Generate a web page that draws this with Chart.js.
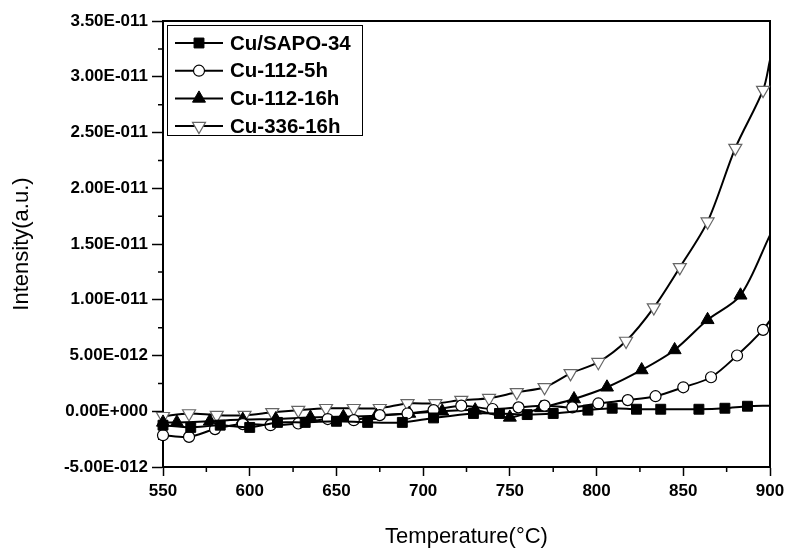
<!DOCTYPE html>
<html><head><meta charset="utf-8">
<script src="https://cdn.jsdelivr.net/npm/chart.js@4/dist/chart.umd.min.js"></script>
<style>html,body{margin:0;padding:0;background:#fff}</style>
</head><body>
<canvas id="c" width="791" height="554"></canvas>
<script>
// ---- data (intensity in units of 1e-12 a.u.) ----
const seriesNames = ['Cu/SAPO-34', 'Cu-112-5h', 'Cu-112-16h', 'Cu-336-16h'];

const sapoTemp = [550, 566, 583, 600, 616, 632, 650, 668, 688, 706, 729, 744, 760, 775, 795, 809, 823, 837, 859, 874, 887, 900];
const sapoVal  = [-1.25, -1.45, -1.25, -1.45, -1.0, -1.0, -0.9, -1.0, -1.0, -0.6, -0.2, -0.2, -0.3, -0.2, 0.1, 0.27, 0.18, 0.18, 0.18, 0.27, 0.45, 0.5];

const cu1125Temp = [550, 565, 580, 596, 612, 628, 645, 660, 675, 691, 706, 722, 740, 755, 770, 786, 801, 818, 834, 850, 866, 881, 896, 900];
const cu1125Val  = [-2.15, -2.3, -1.6, -1.15, -1.25, -1.1, -0.7, -0.8, -0.35, -0.2, 0.1, 0.5, 0.2, 0.35, 0.5, 0.35, 0.7, 1.0, 1.35, 2.15, 3.05, 5.0, 7.3, 8.15];

const cu11216Temp = [550, 558, 577, 596, 615, 635, 654, 673, 692, 711, 730, 750, 768, 787, 806, 826, 845, 864, 883, 900];
const cu11216Val  = [-1.0, -1.0, -0.9, -0.75, -0.7, -0.55, -0.5, -0.4, -0.2, 0.0, 0.1, -0.55, 0.3, 1.1, 2.15, 3.7, 5.5, 8.2, 10.4, 15.8];

const cu33616Temp = [550, 565, 581, 597, 613, 628, 644, 660, 675, 691, 707, 722, 738, 754, 770, 785, 801, 817, 833, 848, 864, 880, 896, 900];
const cu33616Val  = [-0.45, -0.2, -0.35, -0.35, -0.1, 0.1, 0.27, 0.27, 0.27, 0.7, 0.7, 1.0, 1.17, 1.7, 2.15, 3.4, 4.4, 6.3, 9.3, 12.9, 17.0, 23.6, 28.8, 31.5];

const xTickValues = [550, 600, 650, 700, 750, 800, 850, 900];
const yTickValues = [-5, 0, 5, 10, 15, 20, 25, 30, 35];
const yUnit = 1e-12;

// ---- helpers ----
function pts(t, v) { return t.map((x, i) => ({ x: x, y: v[i] })); }
function sci(v) {
  const s = (v * yUnit).toExponential(2);
  const parts = s.split('e');
  const sign = parts[1][0] === '-' ? '-' : '+';
  const digits = parts[1].replace(/[+-]/, '').padStart(3, '0');
  return parts[0] + 'E' + sign + digits;
}
const hideAtEnd = (r) => (ctx) => (ctx.raw && ctx.raw.x >= 900) ? 0 : r;

const styles = [
  { pointStyle: 'rect', rotation: 0, radius: 7, bg: '#000', bc: '#000', bw: 1 },
  { pointStyle: 'circle', rotation: 0, radius: 5.5, bg: '#fff', bc: '#000', bw: 1.2 },
  { pointStyle: 'triangle', rotation: 0, radius: 7.5, bg: '#000', bc: '#000', bw: 1 },
  { pointStyle: 'triangle', rotation: 180, radius: 7.5, bg: '#fff', bc: '#666', bw: 1.2 }
];
const seriesData = [pts(sapoTemp, sapoVal), pts(cu1125Temp, cu1125Val), pts(cu11216Temp, cu11216Val), pts(cu33616Temp, cu33616Val)];

const datasets = seriesNames.map((name, i) => ({
  label: name,
  data: seriesData[i],
  borderColor: '#000',
  borderWidth: 2,
  tension: 0.3,
  fill: false,
  clip: false,
  pointStyle: styles[i].pointStyle,
  pointRotation: styles[i].rotation,
  pointRadius: hideAtEnd(styles[i].radius),
  pointBackgroundColor: styles[i].bg,
  pointBorderColor: styles[i].bc,
  pointBorderWidth: styles[i].bw,
  pointHoverRadius: hideAtEnd(styles[i].radius)
}));

function drawMarker(ctx, st, x, y) {
  ctx.save();
  ctx.fillStyle = st.bg; ctx.strokeStyle = st.bc; ctx.lineWidth = st.bw;
  if (Chart.helpers && Chart.helpers.drawPoint) {
    Chart.helpers.drawPoint(ctx, { pointStyle: st.pointStyle, rotation: st.rotation, radius: st.radius, borderWidth: st.bw }, x, y);
  } else {
    ctx.beginPath();
    if (st.pointStyle === 'circle') ctx.arc(x, y, st.radius, 0, Math.PI * 2);
    else if (st.pointStyle === 'rect') { const s = st.radius * Math.SQRT1_2; ctx.rect(x - s, y - s, 2 * s, 2 * s); }
    else {
      const r = st.radius, d = st.rotation ? -1 : 1;
      ctx.moveTo(x, y - d * r);
      ctx.lineTo(x + r * 0.866, y + d * r / 2);
      ctx.lineTo(x - r * 0.866, y + d * r / 2);
      ctx.closePath();
    }
    ctx.fill(); ctx.stroke();
  }
  ctx.restore();
}

const framePlugin = {
  id: 'frame',
  beforeDatasetsDraw(chart) {
    const { ctx, chartArea: a, scales } = chart;
    ctx.save();
    ctx.strokeStyle = '#000';
    ctx.lineWidth = 2;
    ctx.strokeRect(a.left, a.top, a.right - a.left, a.bottom - a.top);
    // minor ticks
    ctx.lineWidth = 1.5;
    ctx.beginPath();
    for (let i = 0; i < xTickValues.length - 1; i++) {
      const px = scales.x.getPixelForValue((xTickValues[i] + xTickValues[i + 1]) / 2);
      ctx.moveTo(px, a.bottom); ctx.lineTo(px, a.bottom + 5);
    }
    for (let i = 0; i < yTickValues.length - 1; i++) {
      const py = scales.y.getPixelForValue((yTickValues[i] + yTickValues[i + 1]) / 2);
      ctx.moveTo(a.left, py); ctx.lineTo(a.left - 5, py);
    }
    ctx.stroke();
    ctx.restore();
  }
};

const legendPlugin = {
  id: 'boxLegend',
  afterDraw(chart) {
    const { ctx, chartArea: a } = chart;
    const left = a.left + 4, top = a.top + 4, w = 195, h = 110, rowH = 27.7;
    ctx.save();
    ctx.fillStyle = '#fff';
    ctx.fillRect(left, top, w, h);
    ctx.strokeStyle = '#000';
    ctx.lineWidth = 1;
    ctx.strokeRect(left + 0.5, top + 0.5, w, h);
    ctx.font = 'bold 20.5px "Liberation Sans", Arial, sans-serif';
    ctx.textBaseline = 'middle';
    seriesNames.forEach((name, i) => {
      const y = top + 18 + i * rowH;
      ctx.strokeStyle = '#000';
      ctx.lineWidth = 2;
      ctx.beginPath(); ctx.moveTo(left + 8, y); ctx.lineTo(left + 56, y); ctx.stroke();
      drawMarker(ctx, styles[i], left + 32, y);
      ctx.fillStyle = '#000';
      ctx.fillText(name, left + 63, y + 1);
    });
    ctx.restore();
  }
};

const tickFont = { family: '"Liberation Sans", Arial, sans-serif', size: 17, weight: 'bold' };
const titleFont = { family: '"Liberation Sans", Arial, sans-serif', size: 22, weight: 'normal' };

new Chart(document.getElementById('c'), {
  type: 'line',
  data: { datasets: datasets },
  options: {
    responsive: false,
    animation: false,
    events: [],
    layout: { padding: { top: 21, right: 21, left: 0, bottom: 0 } },
    plugins: { legend: { display: false }, tooltip: { enabled: false } },
    scales: {
      x: {
        type: 'linear', min: 550, max: 900,
        afterBuildTicks: (s) => { s.ticks = xTickValues.map(v => ({ value: v })); },
        afterFit: (s) => { s.height = 87; },
        grid: { drawOnChartArea: false, color: '#000', tickLength: 9, tickWidth: 1.5 },
        border: { display: true, color: '#000', width: 2 },
        ticks: { color: '#000', font: tickFont, padding: 5, maxRotation: 0, callback: (v) => String(v) },
        title: { display: true, text: 'Temperature(°C)', color: '#000', font: titleFont, padding: { top: 12, bottom: 4 } }
      },
      y: {
        type: 'linear', min: -5, max: 35,
        afterBuildTicks: (s) => { s.ticks = yTickValues.map(v => ({ value: v })); },
        afterFit: (s) => { s.width = 163; },
        grid: { drawOnChartArea: false, color: '#000', tickLength: 11, tickWidth: 1.5 },
        border: { display: true, color: '#000', width: 2 },
        ticks: { color: '#000', font: tickFont, padding: 4, callback: (v) => sci(v) },
        title: { display: true, text: 'Intensity(a.u.)', color: '#000', font: titleFont, padding: { top: 9, bottom: 8 } }
      }
    }
  },
  plugins: [framePlugin, legendPlugin]
});
</script>
</body></html>
